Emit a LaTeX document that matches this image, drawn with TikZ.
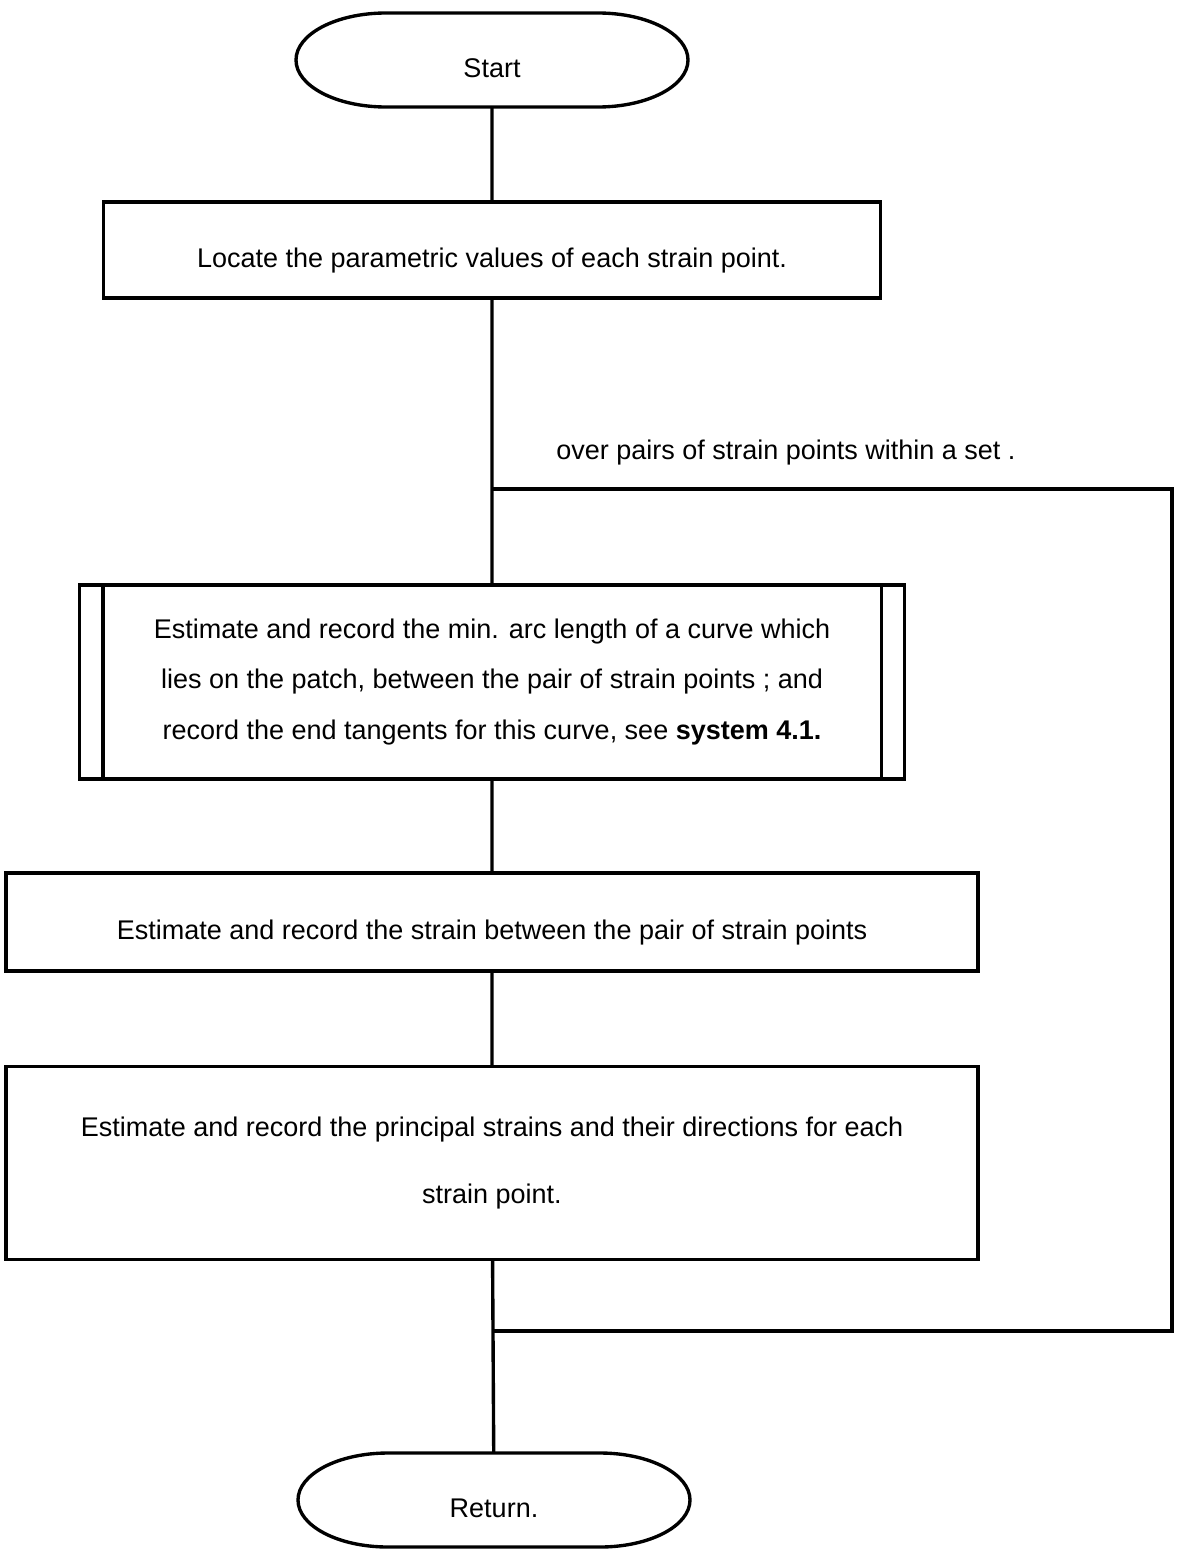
\documentclass[tikz,border=0pt]{standalone}
\usepackage{fontspec}
\setmainfont{Liberation Sans}
\usetikzlibrary{calc}
\newcommand{\pxl}{0.025cm}

\begin{document}
\begin{tikzpicture}[x=\pxl, y=-\pxl, line width=2.4pt,
    every node/.style={font=\fontsize{19.2}{23}\selectfont},
    rect/.style={draw, rectangle, inner sep=0pt, align=center},
    low/.style={text height=25pt, text depth=0pt},
    term/.style={rectangle, low, minimum width=392*\pxl, minimum height=94*\pxl, inner sep=0pt, outer sep=0pt},
    subproc/.style={rect, minimum width=825*\pxl, minimum height=194*\pxl}]
    \useasboundingbox (0,0) rectangle (1177,1550);

    % terminals
    \node[term] (start) at (492,60) {Start};
    \node[term] (ret) at (494,1500) {Return.};
    \foreach \t in {start,ret}{
        \draw ($(\t.north west)+(90,0)$) -- ($(\t.north east)+(-90,0)$)
            arc[x radius=90*\pxl, y radius=47*\pxl, start angle=90, end angle=-90]
            -- ($(\t.south west)+(90,0)$)
            arc[x radius=90*\pxl, y radius=47*\pxl, start angle=270, end angle=90]
            -- cycle;
    }

    % process boxes
    \node[rect, low, minimum width=777*\pxl, minimum height=96*\pxl] (locate) at (492,250)
        {Locate the parametric values of each strain point.};
    \node[subproc, font=\fontsize{19.2}{36}\selectfont] (arc) at (492,682)
        {Estimate and record the min. arc length of a curve which\\
         lies on the patch, between the pair of strain points ; and\\
         record the end tangents for this curve, see \textbf{system 4.1.}};
    \draw ($(arc.north west)+(25,0)$) -- ($(arc.south west)+(25,0)$);
    \draw ($(arc.north east)+(-25,0)$) -- ($(arc.south east)+(-25,0)$);
    \node[rect, low, minimum width=972*\pxl, minimum height=98*\pxl] (strain) at (492,922)
        {Estimate and record the strain between the pair of strain points};
    \node[rect, font=\fontsize{19.2}{48}\selectfont, minimum width=972*\pxl, minimum height=193*\pxl] (princ) at (492,1163)
        {Estimate and record the principal strains and their directions for each\\
         strain point.};

    % loop
    \coordinate (loopin) at (492,489);
    \coordinate (loopout) at (492,1331);
    \coordinate (loopr) at (1172,489);
    \node[anchor=west] (looplbl) at (550,453) {over pairs of strain points within a set .};

    % connectors
    \draw (start) -- (locate) -- (arc) -- (strain) -- (princ) -- (ret);
    \draw (loopin) -- (loopr) |- (loopout);
\end{tikzpicture}
\end{document}
